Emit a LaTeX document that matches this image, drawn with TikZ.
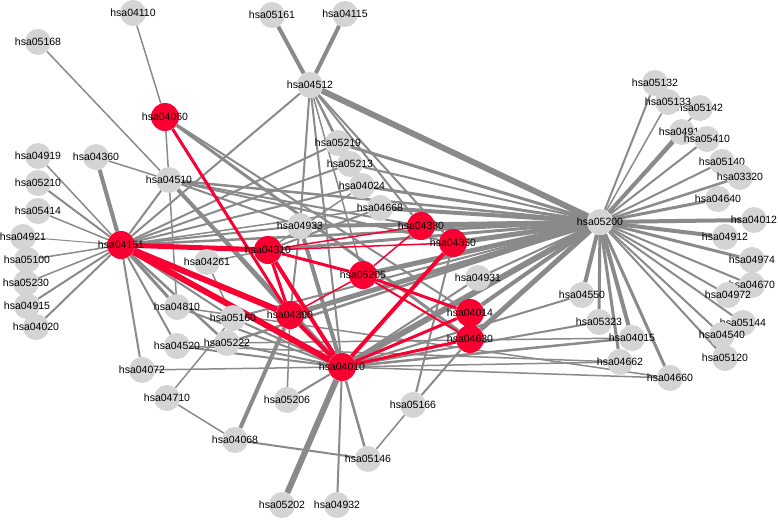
\documentclass[tikz,border=0pt]{standalone}
\usepackage{fontspec}
\setmainfont{Liberation Sans}
\definecolor{nodegrey}{RGB}{212,212,212}
\definecolor{edgegrey}{RGB}{138,138,138}
\definecolor{nodered}{RGB}{250,0,50}
\pgfdeclarelayer{bg}
\pgfsetlayers{bg,main}
\tikzset{
  gn/.style={circle, fill=nodegrey, minimum size=26pt, inner sep=0pt},
  rn/.style={circle, fill=nodered, minimum size=28pt, inner sep=0pt},
  lab/.style={font=\fontsize{10.5}{12}\selectfont, inner sep=0pt, text=black},
  ge/.style={draw=edgegrey},
  re/.style={draw=nodered},
}
\begin{document}
\begin{tikzpicture}[x=1pt,y=-1pt]
\useasboundingbox (0,0) rectangle (778,519);
% grey nodes (order matters for overlaps)
\foreach \n/\px/\py in {
 04110/133/13, 05168/38/42, 05161/272/15, 04115/345/14, 04512/310/85,
 04919/38/156, 04360/96/157, 04510/169/180, 05210/38/183,
 05219/338/143, 05213/350/164, 04024/362/186, 04668/380/208, 04933/300/226,
 05414/38/211, 04921/23/237, 05100/27/260, 05230/26/283, 04915/27/306, 04020/36/327,
 04261/207/262, 04810/177/307, 05160/233/318, 05222/227/343, 04520/177/346,
 04072/142/370, 04710/167/398, 05206/287/400, 04068/235/440, 05166/413/405,
 05146/368/459, 05202/282/505, 04932/337/505, 04931/478/278,
 05200/600/222, 05132/655/83, 05142/700/108, 05133/668/102, 04916/682/132,
 05410/707/139, 05140/722/162, 03320/740/177, 04640/718/199, 04012/754/220,
 04912/725/237, 04974/752/260, 04670/752/285, 04972/728/295, 05144/743/323,
 04540/722/335, 05120/725/358, 04550/582/295, 05323/599/322, 04015/632/338,
 04662/620/362, 04660/670/378}
 \node[gn, label={[lab]center:hsa\n}] (n\n) at (\px,\py) {};
% red nodes
\foreach \n/\px/\py in {
 04060/165/117, 04151/121/245, 04310/268/250, 04380/421/226, 04350/453/243,
 05205/363/275, 04390/290/315, 04014/470/313, 04630/470/339, 04010/342/367}
 \node[rn, label={[lab]center:hsa\n}] (n\n) at (\px,\py) {};
\begin{pgfonlayer}{bg}
\foreach \a/\b/\w in {
 04110/04060/1.5, 05168/04510/1.5, 04060/04510/1.5, 04060/04630/3, 04060/04014/2,
 04360/04510/1.5, 04360/04151/4, 04919/04151/1.5, 05210/04151/2, 05414/04151/1.5,
 04921/04151/1, 05100/04151/1.5, 05230/04151/1.5, 04915/04151/2, 04020/04151/2,
 04151/04510/2, 04151/04512/2, 04151/04810/3, 04151/04520/2, 04151/04072/2,
 04151/05160/2, 04151/05222/2.5, 04151/05219/2, 04151/05213/2, 04151/04933/2,
 04151/05200/2.5, 04151/04668/1.5,
 04510/05200/2.5, 04510/04010/4, 04510/04390/2, 04510/04933/2, 04510/04380/2,
 04510/04350/2, 04510/04810/1.5,
 04512/05161/4, 04512/04115/4, 04512/05200/6, 04512/04933/2, 04512/05219/2,
 04512/05213/1.5, 04512/05205/1.5, 04512/04010/2, 04512/04380/2, 04512/04350/2,
 05200/05219/3, 05200/05213/2, 05200/04024/3, 05200/04668/4, 05200/04933/4,
 05200/04380/5, 05200/04350/5, 05200/04310/3, 05200/05205/5, 05200/04390/5,
 05200/04010/6, 05200/04014/4, 05200/04630/5, 05200/04931/2, 05200/05160/2,
 05200/05222/2.5,
 04024/04151/2, 04024/04310/1.5, 04668/04310/2, 04933/04010/4, 04933/04390/2,
 04931/04010/2, 04261/04310/1.5, 04261/05160/1.5,
 05160/04010/2, 05222/04010/2, 04810/04010/2, 04520/04010/2, 04072/04010/1.5,
 04810/04660/1.5, 05222/04015/1.5, 04520/04662/1.5,
 04010/04550/2, 04010/05323/2, 04010/04015/2.5, 04010/04662/1.5, 04010/04660/1.5,
 04710/05160/1.5, 04710/04068/1.5, 04068/04390/4, 04068/05146/2,
 05146/04010/2.5, 05146/05166/1.5, 05166/04350/2, 05166/04630/2,
 05202/04010/6, 04932/04010/2, 05206/04010/2, 05206/04390/1.5,
 05200/05132/2, 05200/05133/1.5, 05200/05142/1.5, 05200/04916/4, 05200/05410/2,
 05200/05140/2, 05200/03320/2.5, 05200/04640/3, 05200/04012/4, 05200/04912/4,
 05200/04974/3, 05200/04670/2, 05200/04972/2, 05200/05144/2, 05200/04540/2,
 05200/05120/2, 05200/04550/4, 05200/05323/3, 05200/04015/4, 05200/04662/3,
 05200/04660/3}
 \draw[ge, line width=\w pt] (n\a) -- (n\b);
\foreach \a/\b/\w in {
 04060/04390/3, 04151/04310/5, 04151/04390/6, 04151/04010/6, 04310/04390/3,
 04310/04010/4, 04310/05205/3, 04310/04380/1.5, 04310/04350/1.5, 04390/05205/1.5,
 04390/04010/4, 05205/04380/1.5, 05205/04014/3, 05205/04630/2, 04010/04350/4,
 04010/04014/3, 04010/04630/3}
 \draw[re, line width=\w pt] (n\a) -- (n\b);
\end{pgfonlayer}
\end{tikzpicture}
\end{document}
